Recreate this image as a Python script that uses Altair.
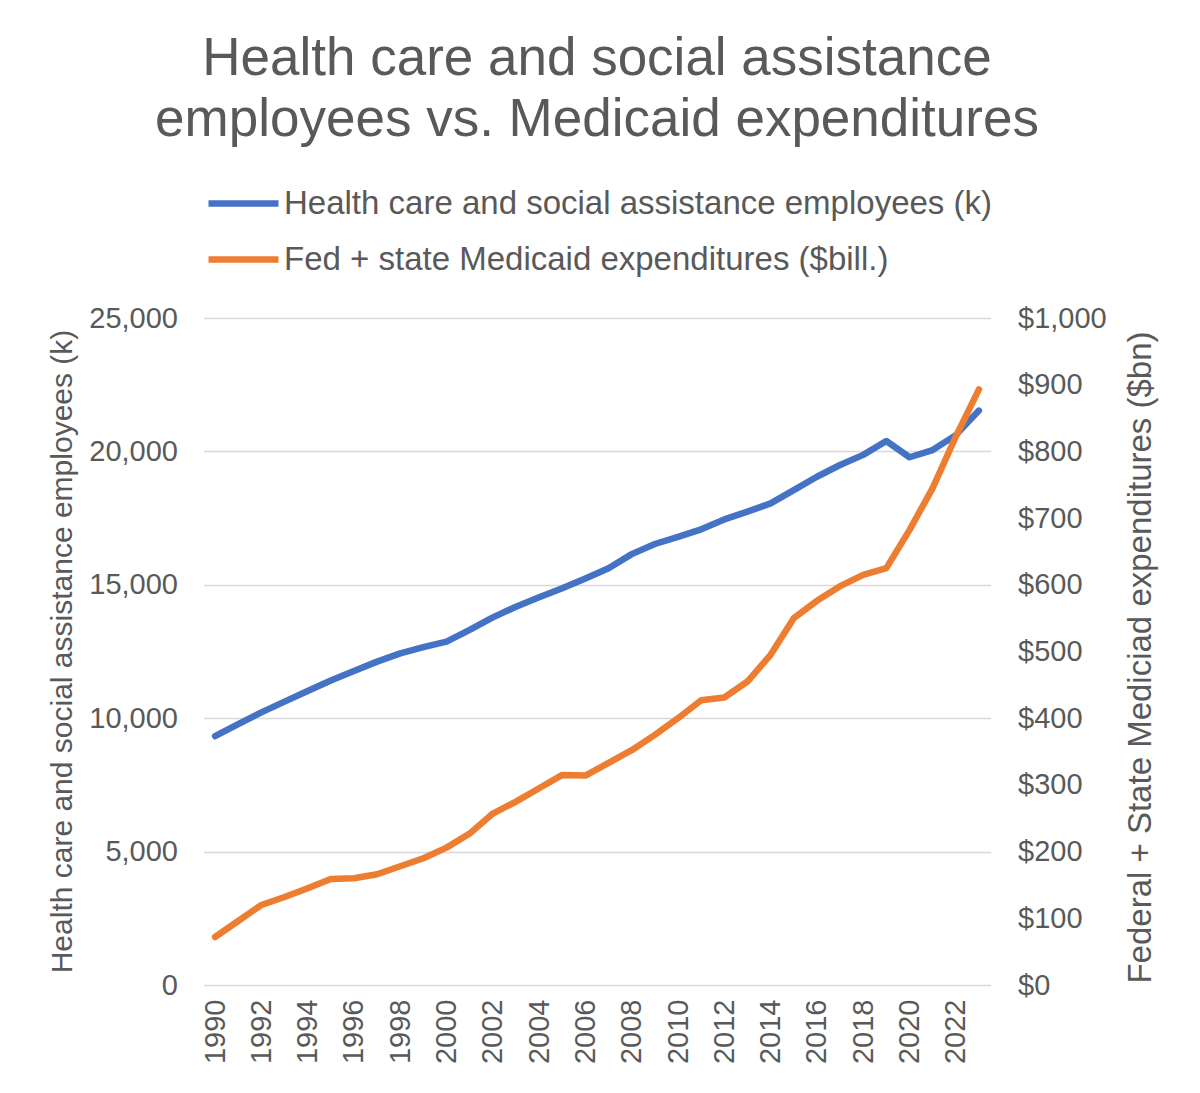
import altair as alt
import pandas as pd

years = list(range(1990, 2024))

# Health care and social assistance employees, thousands
employees_k = [
    9330, 9780, 10220, 10620, 11020, 11410, 11770, 12120, 12430, 12660,
    12870, 13310, 13780, 14180, 14530, 14870, 15240, 15620, 16150, 16530,
    16800, 17080, 17450, 17740, 18050, 18550, 19050, 19490, 19870, 20390,
    19780, 20050, 20610, 21530,
]

# Federal + state Medicaid expenditures, $ billions
medicaid_bn = [
    72, 96, 120, 132, 145, 159, 160, 166, 178, 190,
    206, 227, 257, 275, 295, 315, 314, 333, 352, 375,
    400, 427, 431, 455, 495, 550, 576, 598, 615, 625,
    682, 745, 822, 893,
]

series_names = [
    "Health care and social assistance employees (k)",
    "Fed + state Medicaid expenditures ($bill.)",
]
series_colors = ["#4472C4", "#ED7D31"]

year_ticks = list(range(1990, 2023, 2))
emp_ticks = list(range(0, 25001, 5000))
med_ticks = list(range(0, 1001, 100))

df = pd.concat(
    [
        pd.DataFrame({"year": years, "series": series_names[0], "value": employees_k}),
        pd.DataFrame({"year": years, "series": series_names[1], "value": medicaid_bn}),
    ],
    ignore_index=True,
)

FONT = "Liberation Sans"
GREY = "#595959"

x_enc = alt.X(
    "year:O",
    scale=alt.Scale(paddingOuter=0.5),
    axis=alt.Axis(
        values=year_ticks,
        title=None,
        labelAngle=-90,
        labelPadding=14,
        labelFontSize=29,
        labelColor=GREY,
        ticks=False,
        domain=False,
        grid=False,
    ),
)

color_enc = alt.Color(
    "series:N",
    scale=alt.Scale(domain=series_names, range=series_colors),
    legend=alt.Legend(
        title=None,
        orient="none",
        legendX=8.5,
        legendY=-146,
        direction="vertical",
        symbolType="M-1.25,0H1.25",
        symbolSize=3136,
        symbolStrokeWidth=6.5,
        labelFontSize=33,
        labelColor=GREY,
        labelFont=FONT,
        labelOffset=9,
        labelLimit=900,
        rowPadding=7,
        padding=0,
    ),
)

line_style = dict(strokeWidth=6.5, strokeCap="round", strokeJoin="round")
base = alt.Chart(df).mark_line(**line_style)

emp_line = base.transform_filter(alt.datum.series == series_names[0]).encode(
    x=x_enc,
    y=alt.Y(
        "value:Q",
        scale=alt.Scale(domain=[0, 25000], nice=False),
        axis=alt.Axis(
            values=emp_ticks,
            format=",.0f",
            title="Health care and social assistance employees (k)",
            titleFontSize=30,
            titleFontWeight="normal",
            titleColor=GREY,
            titleAngle=-90,
            titleBaseline="alphabetic",
            titleAlign="center",
            titleX=-132.5,
            titleY=333,
            labelFontSize=29,
            labelColor=GREY,
            labelPadding=26,
            ticks=False,
            domain=False,
            grid=True,
            gridColor="#D9D9D9",
            gridWidth=1.5,
        ),
    ),
    color=color_enc,
)

med_line = base.transform_filter(alt.datum.series == series_names[1]).encode(
    x=x_enc,
    y=alt.Y(
        "value:Q",
        scale=alt.Scale(domain=[0, 1000], nice=False),
        axis=alt.Axis(
            orient="right",
            values=med_ticks,
            format="$,.0f",
            title="Federal + State Mediciad expenditures ($bn)",
            titleFontSize=33,
            titleFontWeight="normal",
            titleColor=GREY,
            titleAngle=-90,
            titleBaseline="alphabetic",
            titleAlign="center",
            titleX=159.5,
            titleY=339,
            labelFontSize=29,
            labelColor=GREY,
            labelPadding=27,
            ticks=False,
            domain=False,
            grid=False,
        ),
    ),
    color=color_enc,
)

chart = (
    alt.layer(emp_line, med_line)
    .resolve_scale(y="independent")
    .properties(
        width=787,
        height=667,
        autosize=alt.AutoSizeParams(type="none"),
        padding={"left": 203.5, "top": 318, "right": 209.5, "bottom": 108},
        title=alt.TitleParams(
            text=["Health care and social assistance", "employees vs. Medicaid expenditures"],
            fontSize=53,
            fontWeight="normal",
            color=GREY,
            font=FONT,
            anchor="middle",
            lineHeight=61,
            offset=25,
        ),
    )
    .configure(font=FONT, background="white")
    .configure_view(stroke=None)
)

chart.save("out.html", embed_options={"renderer": "svg", "actions": False})
